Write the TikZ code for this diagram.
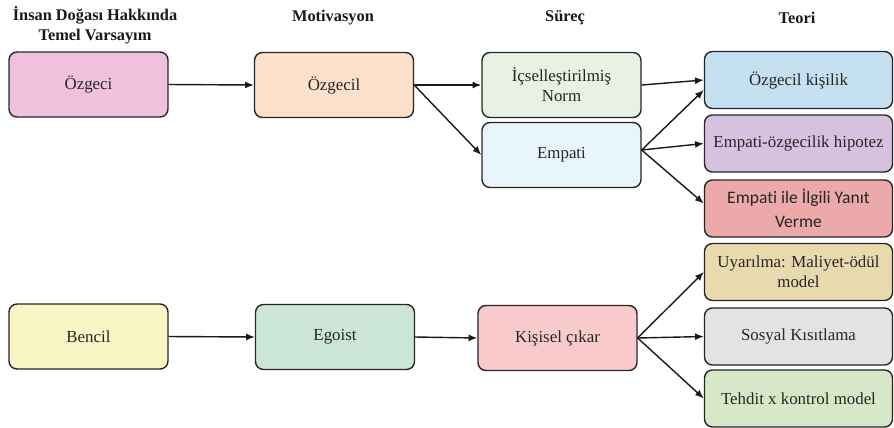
\documentclass[tikz,border=0pt]{standalone}
\usepackage{fontspec}
\setmainfont{Liberation Serif}
\newfontfamily\calibrifont[Ligatures=NoCommon]{Carlito}
\usetikzlibrary{arrows.meta,positioning}

\definecolor{ozgecicol}{HTML}{F0C1DC}
\definecolor{ozgecilcol}{HTML}{FBE0CC}
\definecolor{normcol}{HTML}{E9F1E3}
\definecolor{empaticol}{HTML}{E8F6FC}
\definecolor{kisilikcol}{HTML}{C5E0F0}
\definecolor{hipotezcol}{HTML}{D6C2DE}
\definecolor{yanitcol}{HTML}{EBA9A9}
\definecolor{uyarcol}{HTML}{E9D9AF}
\definecolor{sosyalcol}{HTML}{E3E3E3}
\definecolor{tehditcol}{HTML}{D6E8C8}
\definecolor{bencilcol}{HTML}{F7F6C4}
\definecolor{egoistcol}{HTML}{CBE6D8}
\definecolor{cikarcol}{HTML}{F9CACC}

\begin{document}
\begin{tikzpicture}[x=0.02cm,y=-0.02cm,
  box/.style={draw=black!85,line width=0.8pt,rounded corners=4.5pt,
    minimum width=3.18cm,minimum height=1.3cm,align=center,
    text=black!85,font=\fontsize{9.6}{11.3}\selectfont},
  theory/.style={box,minimum width=3.76cm,minimum height=1.14cm},
  heading/.style={align=center,text=black!90,font=\fontsize{9.3}{11.3}\selectfont\bfseries},
  link/.style={-{Latex[length=5pt,width=4pt]},line width=0.8pt,draw=black!90}]

\useasboundingbox (0,0) rectangle (894,427);

% Column headings
\node (h1) [heading] at (95,25) {İnsan Doğası Hakkında\\Temel Varsayım};
\node (h2) [heading] at (333,18) {Motivasyon};
\node (h3) [heading] at (565,18) {Süreç};
\node (h4) [heading] at (797,18) {Teori};

% Upper row
\node (ozgeci) [box,fill=ozgecicol] at (88.5,84.5) {Özgeci};
\node (ozgecil) [box,fill=ozgecilcol] at (334,85) {Özgecil};
\node (norm) [box,fill=normcol] at (561.5,85) {İçselleştirilmiş\\Norm};
\node (empati) [box,fill=empaticol] at (561.5,155) {Empati};

% Upper theories
\node (kisilik) [theory,fill=kisilikcol] at (798.5,80) {Özgecil kişilik};
\node (hipotez) [theory,fill=hipotezcol] at (798.5,143.5) {Empati-özgecilik hipotez};
\node (yanit) [theory,fill=yanitcol,font=\calibrifont\fontsize{10}{13.6}\selectfont] at (798.5,208.5) {Empati ile İlgili Yanıt\\Verme};

% Lower row
\node (bencil) [box,fill=bencilcol] at (88.5,336.5) {Bencil};
\node (egoist) [box,fill=egoistcol] at (335,337) {Egoist};
\node (cikar) [box,fill=cikarcol] at (557.5,338) {Kişisel çıkar};

% Lower theories
\node (uyar) [theory,fill=uyarcol] at (798.5,272) {Uyarılma: Maliyet-ödül\\model};
\node (sosyal) [theory,fill=sosyalcol] at (798.5,336.5) {Sosyal Kısıtlama};
\node (tehdit) [theory,fill=tehditcol] at (798.5,398.5) {Tehdit x kontrol model};

% Connectors
\draw [link] (ozgeci.east) -- (ozgecil.west);
\draw [link] (ozgecil.east) -- (norm.west);
\draw [link] (ozgecil.east) -- (empati.west);
\draw [link] (norm.east) -- (kisilik.west);
\draw [link] ([yshift=0.1cm]empati.east) -- ([yshift=-0.2cm]kisilik.west);
\draw [link] ([yshift=0.1cm]empati.east) -- (hipotez.west);
\draw [link] ([yshift=0.1cm]empati.east) -- ([yshift=0.1cm]yanit.west);

\draw [link] (bencil.east) -- (egoist.west);
\draw [link] (egoist.east) -- (cikar.west);
\draw [link] (cikar.east) -- (uyar.west);
\draw [link] (cikar.east) -- (sosyal.west);
\draw [link] (cikar.east) -- (tehdit.west);

\end{tikzpicture}
\end{document}
